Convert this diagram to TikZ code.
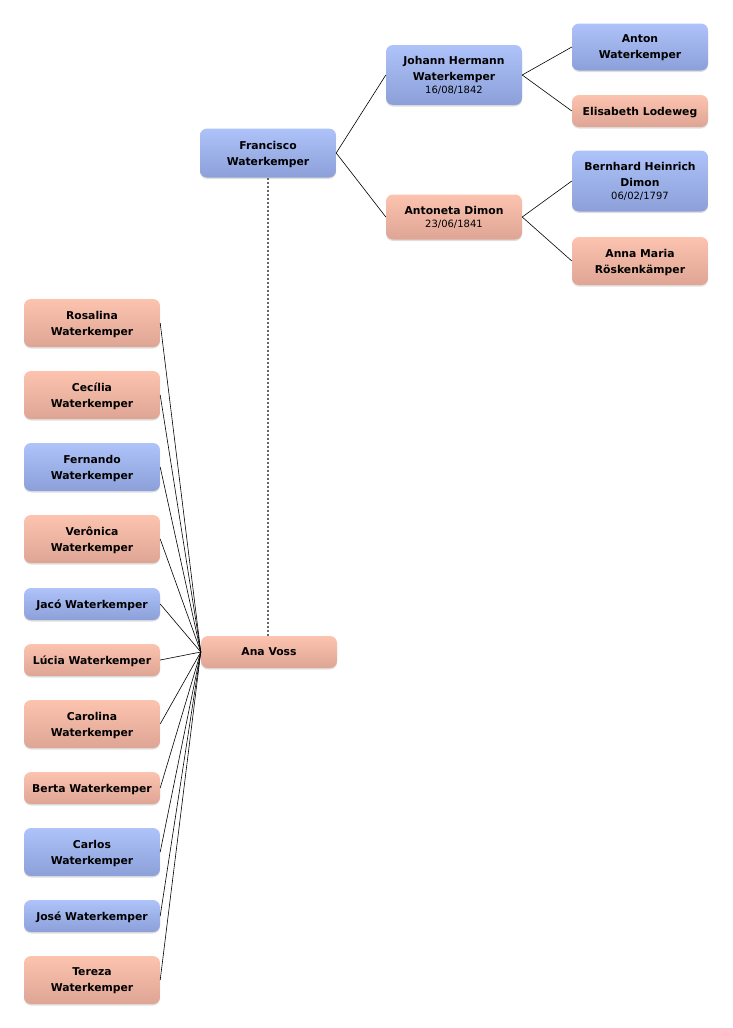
\documentclass[tikz,border=0pt]{standalone}
\usepackage{fontspec}
\setmainfont{DejaVu Sans}
\usetikzlibrary{shadows}

\definecolor{maletop}{HTML}{AEC3F9}
\definecolor{malebot}{HTML}{8C9FD9}
\definecolor{femtop}{HTML}{FCC3AF}
\definecolor{fembot}{HTML}{DEA595}

\newcommand{\bday}[1]{\\[-3pt]{\mdseries\fontsize{10}{11}\selectfont #1}}

\begin{document}
\begin{tikzpicture}[x=1pt,y=-1pt,
  person/.style={rounded corners=7pt, minimum width=136pt, minimum height=32pt,
    inner sep=2pt, align=center, text depth=0pt, font=\fontsize{10.8}{16}\selectfont\bfseries,
    drop shadow={shadow xshift=0pt, shadow yshift=-1.5pt, opacity=0.25}},
  male/.style={person, top color=maletop, bottom color=malebot},
  female/.style={person, top color=femtop, bottom color=fembot},
  link/.style={line width=0.6pt},
  spouse/.style={gray!80!black, line width=1.2pt, dash pattern=on 2pt off 2pt}]
\useasboundingbox (0,0) rectangle (732,1028);

% ancestors
\node[male, minimum height=49pt] (francisco) at (268,153) {Francisco\\Waterkemper};
\node[male, minimum height=60pt] (johann) at (454,75) {Johann Hermann\\Waterkemper\bday{16/08/1842}};
\node[female, minimum height=45pt] (antoneta) at (454,217) {Antoneta Dimon\bday{23/06/1841}};
\node[male, minimum height=47pt] (anton) at (640,47) {Anton\\Waterkemper};
\node[female] (elisabeth) at (640,111) {Elisabeth Lodeweg};
\node[male, minimum height=61pt] (bernhard) at (640,181) {Bernhard Heinrich\\Dimon\bday{06/02/1797}};
\node[female, minimum height=48pt] (annamaria) at (640,261) {Anna Maria\\Röskenkämper};

% spouse
\node[female] (ana) at (269,652) {Ana Voss};

% children
\node[female, minimum height=48pt] (rosalina) at (92,323) {Rosalina\\Waterkemper};
\node[female, minimum height=48pt] (cecilia) at (92,395) {Cecília\\Waterkemper};
\node[male, minimum height=48pt] (fernando) at (92,467) {Fernando\\Waterkemper};
\node[female, minimum height=48pt] (veronica) at (92,539) {Verônica\\Waterkemper};
\node[male] (jaco) at (92,604) {Jacó Waterkemper};
\node[female] (lucia) at (92,660) {Lúcia Waterkemper};
\node[female, minimum height=48pt] (carolina) at (92,724) {Carolina\\Waterkemper};
\node[female] (berta) at (92,788) {Berta Waterkemper};
\node[male, minimum height=48pt] (carlos) at (92,852) {Carlos\\Waterkemper};
\node[male] (jose) at (92,916) {José Waterkemper};
\node[female, minimum height=48pt] (tereza) at (92,980) {Tereza\\Waterkemper};

\draw[link] (francisco.east) -- (johann.west);
\draw[link] (francisco.east) -- (antoneta.west);
\draw[link] (johann.east) -- (anton.west);
\draw[link] (johann.east) -- (elisabeth.west);
\draw[link] (antoneta.east) -- (bernhard.west);
\draw[link] (antoneta.east) -- (annamaria.west);

\draw[spouse] (francisco.south) -- (ana.north -| francisco.south);

\foreach \kid in {rosalina,cecilia,fernando,veronica,jaco,lucia,carolina,berta,carlos,jose,tereza}
  \draw[link] (\kid.east) -- (ana.west);
\end{tikzpicture}
\end{document}
